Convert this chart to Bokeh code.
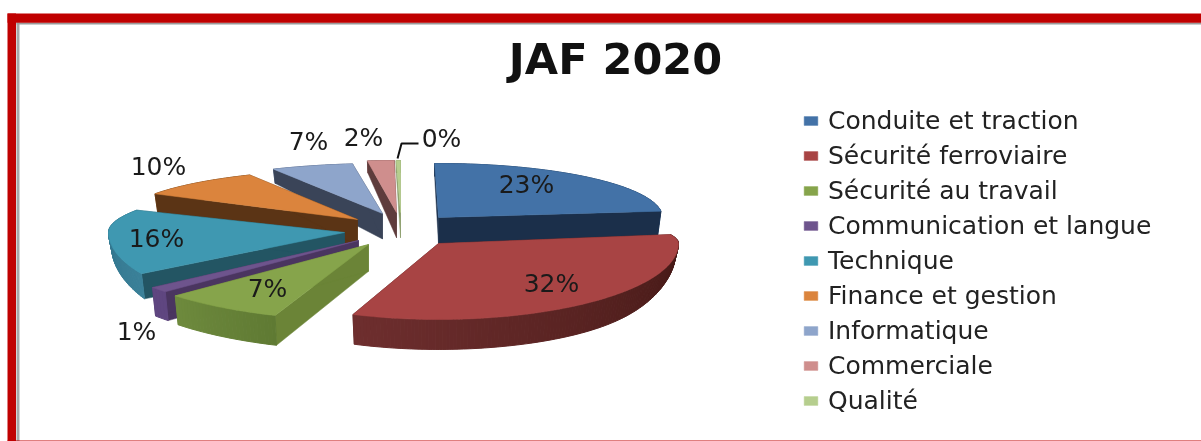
import numpy as np
from bokeh.plotting import figure
from bokeh.models import Legend, LegendItem, Range1d
from bokeh.core.properties import value
from bokeh.embed import file_html
from bokeh.resources import INLINE

# ---- data ----
title = "JAF 2020"
categories = ["Conduite et traction", "Sécurité ferroviaire", "Sécurité au travail",
              "Communication et langue", "Technique", "Finance et gestion",
              "Informatique", "Commerciale", "Qualité"]
shares = [23.4, 32.4, 7.4, 1.2, 16.4, 10.0, 6.9, 1.9, 0.4]

# ---- styles ----
top_colors = ["#4372A7", "#A84444", "#86A44B", "#6E548D", "#3F98B1", "#DB843D", "#8EA5CB", "#CF8E8D", "#B6CE8E"]
cut_colors = ["#1B2F4A", "#4A1C1A", "#6B8437", "#4A3560", "#235563", "#5B3415", "#3A4458", "#5E3C3C", "#8A9C6A"]
arc_from = ["#2B4A70", "#6E2E2E", "#6E8A3D", "#5F4680", "#2F7088", "#7A4A20", "#5A6C8C", "#8A5A5A", "#8A9C6A"]
arc_to = ["#2B4A70", "#3E1512", "#5F7A33", "#5F4680", "#3A8098", "#7A4A20", "#5A6C8C", "#8A5A5A", "#8A9C6A"]

# projected layout of each exploded slice: apex x, apex y, rx, ry back, ry front, rotation at start / end
layout = [
    (438, 217, 224, 54, 54, -1.0, -1.0),
    (438, 243, 240, 35, 76, -9.0, 0.0),
    (368, 244, 262, 76, 76, 0.0, 0.0),
    (358, 240, 262, 76, 76, 0.0, 0.0),
    (344, 232, 236, 47, 81, 7.5, 7.5),
    (357, 219, 236, 50, 50, 10.0, 6.0),
    (382, 213, 236, 50, 50, 5.6, 1.0),
    (396, 212, 236, 52, 52, 1.2, 0.9),
    (400, 212, 236, 52, 52, 0.4, 0.0),
]
# how much the side wall narrows toward the left / right extreme of the ellipse
side_taper = [0, 0.5, 0, 0, 0.35, 0, 0, 0, 0]
# data label offset from each slice's apex
label_offsets = [(88, -33), (113, 40), (-101, 44), (-222, 91), (-188, 6), (-199, -53), (-74, -72), (-33, -75), (41, -74)]
draw_order = [8, 7, 6, 5, 4, 3, 2, 0, 1]


def thickness(y):
    return np.interp(y, [160, 215, 250, 320], [12, 26, 27, 30])


def lerp_color(c1, c2, t):
    a = np.array([int(c1[i:i + 2], 16) for i in (1, 3, 5)], dtype=float)
    b = np.array([int(c2[i:i + 2], 16) for i in (1, 3, 5)], dtype=float)
    m = a + (b - a) * t
    return "#%02x%02x%02x" % tuple(int(round(v)) for v in m)


def arc_xy(lay, deg):
    ax, ay, rx, ryb, ryf = lay[:5]
    th = np.radians(deg)
    c = np.cos(th)
    ry = np.where(c > 0, ryb, ryf)
    return ax + rx * np.sin(th), ay - ry * c


def lower(lay, x, y, taper=0.0, deg=None):
    ax = lay[0]
    t = thickness(np.asarray(y))
    if deg is not None:
        t = t * (1 - taper * np.sin(np.radians(deg)) ** 8)
    return ax + (np.asarray(x) - ax) * 0.985, np.asarray(y) + t


p = figure(width=1201, height=441, output_backend="svg", toolbar_location=None,
           x_range=Range1d(0, 1201), y_range=Range1d(441, 0), min_border=0,
           x_axis_type="linear", styles={"position": "fixed", "left": "0px", "top": "0px"})
p.axis.visible = False
p.grid.visible = False
p.outline_line_color = None
p.background_fill_color = "white"
p.border_fill_color = "white"

# frame of the picture
p.quad(left=[16], right=[19], top=[22], bottom=[441], fill_color="#A6A6A6", line_color=None)
p.quad(left=[16], right=[1201], top=[22], bottom=[24], fill_color="#9A9A9A", line_color=None)
p.quad(left=[7, 7, 7], right=[1201, 15.5, 1201], top=[13, 13, 440], bottom=[22.3, 441, 441], fill_color="#C00000", line_color=None)

cum = np.concatenate([[0], np.cumsum(shares)]) / np.sum(shares) * 360
top_renderers = {}
for i in draw_order:
    lay = layout[i]
    a0 = cum[i] + lay[5]
    a1 = cum[i + 1] + lay[6]
    angs = np.linspace(a0, a1, max(4, int((a1 - a0) * 1.2)))
    ax_, ay_ = lay[0], lay[1]
    xs, ys = arc_xy(lay, angs)
    bx, by = lower(lay, xs, ys, side_taper[i], angs)
    abx, aby = lower(lay, [ax_], [ay_])
    colors = [lerp_color(arc_from[i], arc_to[i], 1 - (k / max(1, len(angs) - 2))) for k in range(len(angs) - 1)]
    back_q, front_q = [], []
    for k in range(len(angs) - 1):
        quad = ([xs[k], xs[k + 1], bx[k + 1], bx[k]], [ys[k], ys[k + 1], by[k + 1], by[k]], colors[k])
        mid = (angs[k] + angs[k + 1]) / 2
        (front_q if np.cos(np.radians(mid)) < 0 else back_q).append(quad)
    if back_q:
        p.patches([q[0] for q in back_q], [q[1] for q in back_q], fill_color=[q[2] for q in back_q],
                  line_color=[q[2] for q in back_q], line_width=1)
    for e in (0, -1):
        p.patch([ax_, xs[e], bx[e], abx[0]], [ay_, ys[e], by[e], aby[0]],
                fill_color=cut_colors[i], line_color=cut_colors[i], line_width=0.5)
    if front_q:
        p.patches([q[0] for q in front_q], [q[1] for q in front_q], fill_color=[q[2] for q in front_q],
                  line_color=[q[2] for q in front_q], line_width=1)
    top_renderers[i] = p.patch(np.concatenate([[ax_], xs]), np.concatenate([[ay_], ys]),
                               fill_color=top_colors[i], line_color=top_colors[i], line_width=0.5)

# leader line of the smallest slice
q_mid = (cum[-2] + cum[-1]) / 2
qx, qy = arc_xy(layout[8], q_mid)
lox, loy = label_offsets[8]
p.line([float(qx), float(qx) + 4, layout[8][0] + lox - 23], [float(qy) - 2, layout[8][1] + loy + 5, layout[8][1] + loy + 5],
       line_color="#111111", line_width=2)

# data labels
p.text(x=[layout[i][0] + label_offsets[i][0] for i in range(9)],
       y=[layout[i][1] + label_offsets[i][1] for i in range(9)],
       text=[f"{round(v)}%" for v in shares], text_font=value("DejaVu Sans"), text_font_size="25px",
       text_color="#1A1A1A", text_align="center", text_baseline="middle")

# title
p.text(x=[615], y=[58], text=[title], text_font=value("DejaVu Sans"), text_font_style="bold",
       text_font_size="43px", text_color="#111111", text_align="center", text_baseline="middle")

legend = Legend(items=[LegendItem(label=categories[i], renderers=[top_renderers[i]]) for i in range(9)],
                location=(802, 23), orientation="vertical", padding=0, margin=0, spacing=0,
                glyph_width=17, glyph_height=11, label_height=35, label_standoff=9,
                label_text_font="DejaVu Sans", label_text_font_size="25px", label_text_color="#222222",
                border_line_color=None, background_fill_alpha=0)
p.add_layout(legend, "center")

open("out.html", "w").write(file_html(p, INLINE))
